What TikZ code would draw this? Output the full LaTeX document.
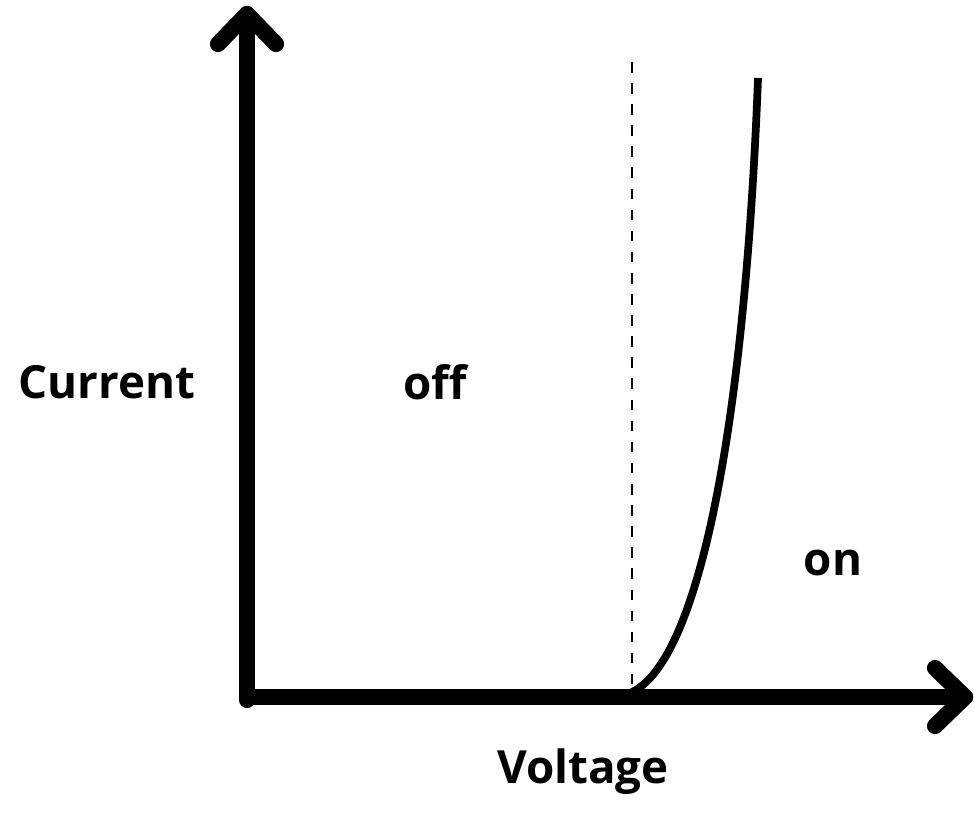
\documentclass[tikz,border=0pt]{standalone}
\usepackage{fontspec}
\setmainfont{Open Sans}
\tikzset{
  axis/.style={line width=4.6pt, line cap=round, line join=round},
  lbl/.style={font=\fontsize{13}{15}\selectfont\bfseries}
}
\begin{document}
\begin{tikzpicture}[x=0.01cm,y=-0.01cm]
    \useasboundingbox (0,0) rectangle (974,825);
    %% axes with open arrow heads
    \draw[axis] (247,700) -- (247,14);
    \draw[axis] (218,44) -- (247,14) -- (276,44);
    \draw[axis] (247,697) -- (965,697);
    \draw[axis] (935,668) -- (965,697) -- (935,726);
    %% threshold and curve
    \draw[dashed, thin] (632,62) -- (632,692);
    \draw[line width=2.2pt] (632,692) .. controls (700,660) and (745,420) .. (758,78);
    \node[lbl] (cur) at (107,382) {Current};
    \node[lbl] (off) at (435,382) {off};
    \node[lbl] (on) at (833,563) {on};
    \node[lbl] (volt) at (583,772) {Voltage};
\end{tikzpicture}
\end{document}
